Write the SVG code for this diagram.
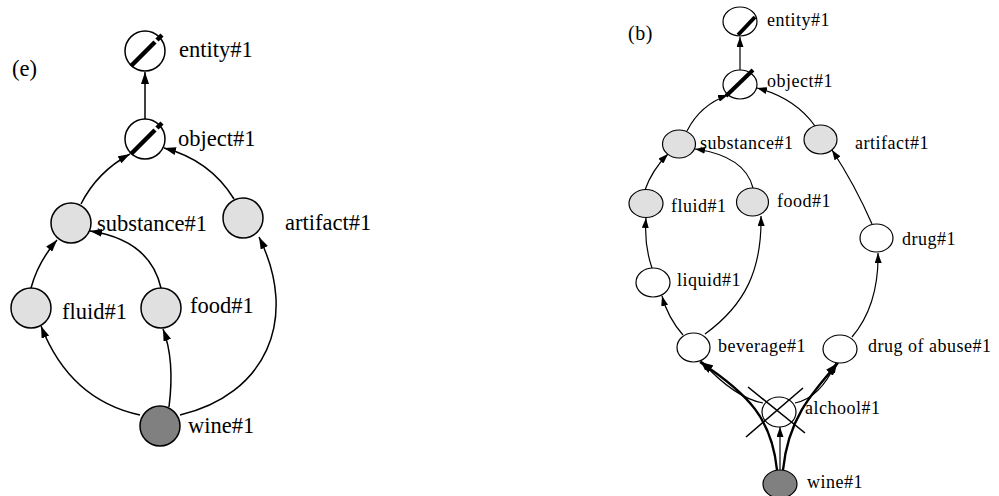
<svg xmlns="http://www.w3.org/2000/svg" width="999" height="496" viewBox="0 0 999 496">
<style>
  .bg{fill:#ffffff}
  .n{stroke:#000;stroke-width:1.5}
  .rn{stroke:#000;stroke-width:1.2}
  .w{fill:#ffffff}
  .g{fill:#e0e0e0}
  .d{fill:#808080}
  .slash{stroke:#000;stroke-width:4.5;stroke-linecap:butt;fill:none}
  .rslash{stroke:#000;stroke-width:4;stroke-linecap:butt;fill:none}
  .e{fill:none;stroke:#000;stroke-width:1.5}
  .re{fill:none;stroke:#000;stroke-width:1.2}
  .te{fill:none;stroke:#000;stroke-width:2.4}
  .x{stroke:#000;stroke-width:1.6;fill:none}
  .lt{font-family:"Liberation Serif","Times New Roman",serif;font-size:22.5px;fill:#000}
  .rt{font-family:"Liberation Serif","Times New Roman",serif;font-size:18px;letter-spacing:0.5px;fill:#000}
</style>
<defs>
  <marker id="al" markerWidth="12" markerHeight="8" refX="12" refY="4" orient="auto" markerUnits="userSpaceOnUse">
    <path d="M0,0 L12,4 L0,8 z" fill="#000"/>
  </marker>
  <marker id="ar" markerWidth="10" markerHeight="7" refX="10" refY="3.5" orient="auto" markerUnits="userSpaceOnUse">
    <path d="M0,0 L10,3.5 L0,7 z" fill="#000"/>
  </marker>
  <marker id="at" markerWidth="13" markerHeight="9" refX="13" refY="4.5" orient="auto" markerUnits="userSpaceOnUse">
    <path d="M0,0 L13,4.5 L0,9 z" fill="#000"/>
  </marker>
</defs>
<rect class="bg" x="0" y="0" width="999" height="496"/>

<text class="lt" x="12" y="76">(e)</text>
<text class="rt" x="628" y="40" style="font-size:20px;letter-spacing:0.5px">(b)</text>

<g id="connectors">
  <!-- left panel -->
  <path class="e" d="M145,119 L145,72" marker-end="url(#al)"/>
  <path class="e" d="M81,204 Q97,172 130,154" marker-end="url(#al)"/>
  <path class="e" d="M234,199 Q210,160 164,148" marker-end="url(#al)"/>
  <path class="e" d="M31,288 Q38,262 57,240" marker-end="url(#al)"/>
  <path class="e" d="M161,288 Q150,240 90,231" marker-end="url(#al)"/>
  <path class="e" d="M140,415 Q70,400 41,326" marker-end="url(#al)"/>
  <path class="e" d="M169,407 Q175,360 163,329" marker-end="url(#al)"/>
  <path class="e" d="M180,415 C265,395 300,320 259,237" marker-end="url(#al)"/>
  <!-- right panel -->
  <path class="re" d="M740,70 L740,37" marker-end="url(#ar)"/>
  <path class="re" d="M687,131 Q700,105 728,95" marker-end="url(#ar)"/>
  <path class="re" d="M815,126 Q795,98 757,88" marker-end="url(#ar)"/>
  <path class="re" d="M645,190 Q652,170 668,154" marker-end="url(#ar)"/>
  <path class="re" d="M753,188 Q745,156 695,149" marker-end="url(#ar)"/>
  <path class="re" d="M872,224 Q855,185 832,150" marker-end="url(#ar)"/>
  <path class="re" d="M652,268 Q644,245 646,218" marker-end="url(#ar)"/>
  <path class="re" d="M683,335 Q668,318 662,296" marker-end="url(#ar)"/>
  <path class="re" d="M705,334 C745,305 762,270 761,216" marker-end="url(#ar)"/>
  <path class="re" d="M852,337 Q879,305 878,253" marker-end="url(#ar)"/>
  <path class="re" d="M763,403 Q735,398 701,361" marker-end="url(#ar)"/>
  <path class="re" d="M795,403 Q820,398 836,363" marker-end="url(#ar)"/>
  <path class="re" d="M780,470 L780,427" marker-end="url(#ar)"/>
  <path class="te" d="M777,470 C772,420 750,395 700,362" marker-end="url(#at)"/>
  <path class="te" d="M783,470 C788,420 810,395 838,363" marker-end="url(#at)"/>
</g>

<!-- left panel nodes -->
<g id="l-entity">
  <circle class="n w" cx="145" cy="51" r="20"/>
  <path class="slash" d="M131,66 L155,42 M157,40 L162,35"/>
  <text class="lt" x="179" y="57">entity#1</text>
</g>
<g id="l-object">
  <circle class="n w" cx="145" cy="139" r="20"/>
  <path class="slash" d="M131,154 L155,130 M157,128 L162,123"/>
  <text class="lt" x="178" y="146">object#1</text>
</g>
<g id="l-substance">
  <circle class="n g" cx="71" cy="223" r="20"/>
  <text class="lt" x="97" y="231">substance#1</text>
</g>
<g id="l-artifact">
  <circle class="n g" cx="243" cy="218" r="20"/>
  <text class="lt" x="285" y="230">artifact#1</text>
</g>
<g id="l-fluid">
  <circle class="n g" cx="31" cy="308" r="20"/>
  <text class="lt" x="62" y="319">fluid#1</text>
</g>
<g id="l-food">
  <circle class="n g" cx="161" cy="308" r="20"/>
  <text class="lt" x="190" y="313">food#1</text>
</g>
<g id="l-wine">
  <circle class="n d" cx="160" cy="426" r="20"/>
  <text class="lt" x="188" y="433">wine#1</text>
</g>

<!-- right panel nodes -->
<g id="r-entity">
  <ellipse class="rn w" cx="740" cy="21.5" rx="17" ry="14.5"/>
  <path class="rslash" d="M738,35 L755,17"/>
  <text class="rt" x="767" y="26">entity#1</text>
</g>
<g id="r-object">
  <ellipse class="rn w" cx="740" cy="84.5" rx="17" ry="14.5"/>
  <path class="rslash" d="M726,96 L753,70"/>
  <text class="rt" x="767" y="87">object#1</text>
</g>
<g id="r-substance">
  <ellipse class="rn g" cx="679" cy="144" rx="16.5" ry="14"/>
  <text class="rt" x="700" y="149">substance#1</text>
</g>
<g id="r-artifact">
  <ellipse class="rn g" cx="820.5" cy="139.5" rx="16.5" ry="14.5"/>
  <text class="rt" x="855" y="149">artifact#1</text>
</g>
<g id="r-fluid">
  <ellipse class="rn g" cx="646" cy="203.5" rx="17" ry="14"/>
  <text class="rt" x="671" y="212">fluid#1</text>
</g>
<g id="r-food">
  <ellipse class="rn g" cx="752.5" cy="202" rx="16" ry="14"/>
  <text class="rt" x="777" y="207">food#1</text>
</g>
<g id="r-drug">
  <ellipse class="rn w" cx="876.5" cy="238" rx="16.5" ry="14"/>
  <text class="rt" x="902" y="245">drug#1</text>
</g>
<g id="r-liquid">
  <ellipse class="rn w" cx="653" cy="282.5" rx="17" ry="14.5"/>
  <text class="rt" x="677" y="286">liquid#1</text>
</g>
<g id="r-beverage">
  <ellipse class="rn w" cx="693.5" cy="347.5" rx="16.5" ry="14.5"/>
  <text class="rt" x="718" y="352">beverage#1</text>
</g>
<g id="r-drug-of-abuse">
  <ellipse class="rn w" cx="840" cy="349" rx="17" ry="14"/>
  <text class="rt" x="868" y="352">drug of abuse#1</text>
</g>
<g id="r-alchool">
  <ellipse class="rn w" cx="779" cy="412" rx="17" ry="15" style="fill:none"/>
  <path class="x" d="M748,387 L805,433 M803,388 L746,437"/>
  <text class="rt" x="805" y="414">alchool#1</text>
</g>
<g id="r-wine">
  <ellipse class="rn d" cx="780" cy="484" rx="17" ry="14"/>
  <text class="rt" x="807" y="488">wine#1</text>
</g>
</svg>
